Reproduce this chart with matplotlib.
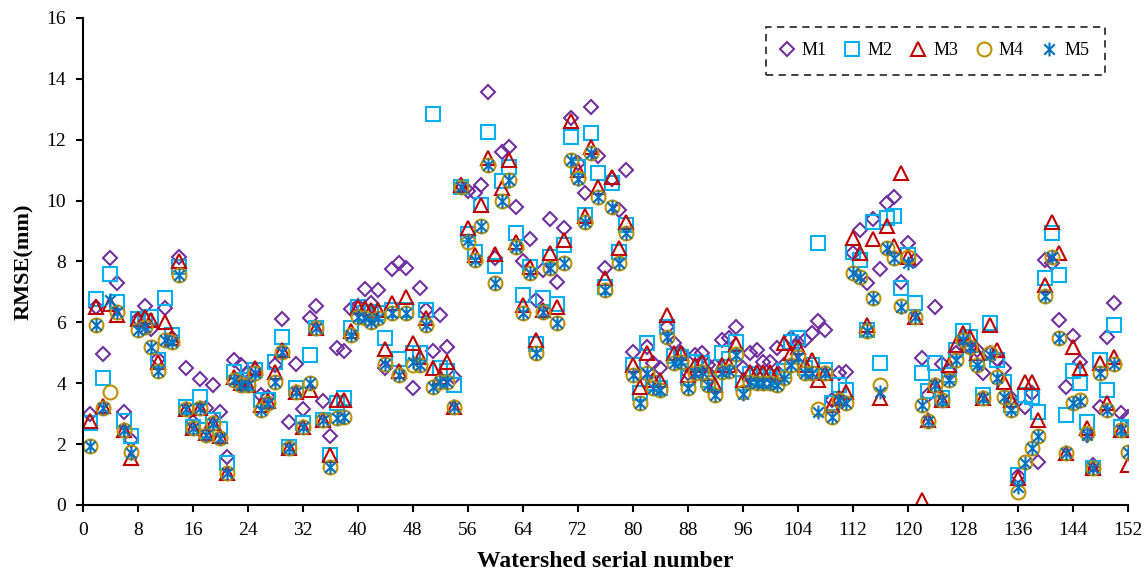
import numpy as np
import matplotlib
matplotlib.use("Agg")
from matplotlib import pyplot as plt
from matplotlib.path import Path

# RMSE (mm) of the five models for watersheds 1..152
m1 = [3.0, 6.5, 4.96, 8.1, 7.3, 3.07, 2.14, 6.1, 6.54, 5.77,
      4.8, 6.46, 5.5, 8.16, 4.49, 2.74, 4.13, 3.2, 3.94, 3.07,
      1.59, 4.76, 4.6, 4.35, 4.45, 3.61, 3.55, 4.6, 6.1, 2.74,
      4.63, 3.14, 6.13, 6.54, 3.43, 2.25, 5.15, 5.05, 6.45, 6.55,
      7.09, 6.65, 7.07, 4.5, 7.74, 7.94, 7.78, 3.83, 7.12, 6.41,
      5.07, 6.24, 5.18, 4.22, 10.5, 10.3, 10.24, 10.5, 13.58, 8.1,
      11.6, 11.77, 9.8, 8.0, 8.73, 6.74, 7.72, 9.4, 7.34, 9.09,
      12.7, 11.25, 10.24, 13.09, 11.45, 7.78, 10.7, 9.7, 11.0, 5.04,
      4.3, 5.2, 4.65, 4.49, 5.86, 5.31, 5.0, 4.33, 4.93, 4.98,
      4.6, 4.55, 5.42, 5.5, 5.86, 4.5, 4.98, 5.09, 4.7, 4.71,
      5.15, 4.6, 5.5, 5.31, 5.42, 5.64, 6.05, 5.75, 3.45, 4.33,
      4.38, 8.27, 9.03, 7.3, 9.4, 7.74, 9.91, 10.13, 7.34, 8.62,
      8.05, 4.82, 3.6, 6.49, 4.63, 4.4, 5.0, 5.5, 5.2, 5.09,
      4.33, 5.0, 4.8, 4.49, 3.5, 0.95, 3.23, 3.67, 1.42, 8.05,
      7.94, 6.08, 3.89, 5.55, 4.7, 2.3, 1.3, 3.23, 5.53, 6.63,
      3.01, 2.9]
m2 = [2.7, 6.78, 4.16, 7.6, 6.68, 2.76, 2.25, 6.1, 6.05, 6.19,
      4.76, 6.79, 5.59, 7.83, 3.23, 2.57, 3.56, 2.46, 2.79, 2.5,
      1.37, 4.38, 4.1, 4.0, 4.45, 3.45, 3.45, 4.7, 5.51, 1.9,
      3.83, 2.68, 4.93, 5.8, 2.79, 1.64, 3.35, 3.5, 5.8, 6.52,
      6.3, 6.35, 6.3, 5.48, 6.4, 4.8, 6.4, 4.98, 4.98, 6.41,
      12.85, 4.49, 4.4, 3.94, 10.46, 8.9, 8.3, 9.85, 12.27, 7.85,
      10.63, 11.12, 8.93, 6.89, 7.83, 5.3, 6.79, 8.16, 6.6, 8.54,
      12.1, 11.1, 9.53, 12.21, 10.9, 7.17, 10.57, 8.3, 9.2, 4.6,
      3.67, 5.31, 4.0, 3.83, 5.86, 4.9, 4.85, 4.16, 4.7, 4.65,
      4.1, 4.0, 4.98, 4.8, 5.37, 4.0, 4.3, 4.2, 4.1, 4.1,
      4.22, 4.4, 5.35, 5.48, 4.5, 4.6, 8.6, 4.44, 3.35, 3.94,
      3.78, 8.3, 8.05, 5.75, 9.3, 4.65, 9.42, 9.48, 7.12, 8.2,
      6.63, 4.33, 3.75, 4.68, 3.5, 4.27, 5.1, 5.7, 5.53, 4.8,
      3.6, 5.97, 4.75, 4.05, 3.3, 0.99, 3.61, 3.56, 3.07, 7.45,
      8.93, 7.56, 2.96, 4.4, 4.0, 2.74, 1.2, 4.76, 3.78, 5.91,
      2.57, 2.52]
m3 = [2.75, 6.52, 3.25, 6.6, 6.25, 2.46, 1.53, 6.1, 6.19, 6.08,
      4.7, 6.02, 5.5, 8.0, 3.14, 2.52, 3.18, 2.35, 2.68, 2.25,
      1.04, 4.2, 4.0, 3.95, 4.5, 3.3, 3.4, 4.38, 5.1, 1.86,
      3.72, 2.57, 3.78, 5.8, 2.79, 1.64, 3.45, 3.45, 5.7, 6.52,
      6.46, 6.4, 6.4, 5.11, 6.63, 4.4, 6.84, 5.31, 4.87, 6.13,
      4.49, 4.22, 4.71, 3.23, 10.5, 9.09, 8.2, 9.86, 11.39, 8.25,
      10.4, 11.34, 8.65, 6.57, 7.83, 5.42, 6.41, 8.27, 6.52, 8.71,
      12.6, 11.0, 9.48, 11.77, 10.46, 7.45, 10.79, 8.45, 9.31, 4.6,
      3.89, 4.98, 4.1, 4.1, 6.24, 4.98, 4.98, 4.27, 4.6, 4.7,
      4.33, 3.94, 4.6, 4.6, 5.3, 4.1, 4.38, 4.38, 4.38, 4.38,
      4.3, 5.31, 5.0, 5.2, 4.6, 4.76, 4.1, 4.35, 3.29, 3.5,
      3.72, 8.76, 8.27, 5.9, 8.75, 3.5, 9.17, 8.5, 10.9, 8.16,
      6.19, 0.16, 2.8, 3.94, 3.45, 4.6, 5.26, 5.64, 5.53, 4.98,
      3.5, 5.91, 5.09, 4.05, 3.45, 0.88, 4.05, 4.05, 2.79, 7.23,
      9.31, 8.27, 1.7, 5.2, 4.5, 2.52, 1.2, 4.65, 3.34, 4.87,
      2.46, 1.31]
m4 = [1.95, 5.9, 3.2, 3.72, 6.35, 2.46, 1.75, 5.75, 5.86, 5.18,
      4.41, 5.42, 5.37, 7.56, 3.14, 2.52, 3.18, 2.3, 2.68, 2.2,
      1.04, 4.1, 3.95, 3.95, 4.35, 3.12, 3.34, 4.05, 5.04, 1.86,
      3.72, 2.57, 4.02, 5.8, 2.79, 1.26, 2.85, 2.9, 5.59, 6.19,
      6.13, 6.02, 6.13, 4.63, 6.3, 4.27, 6.3, 4.6, 4.6, 5.91,
      3.89, 4.05, 4.05, 3.23, 10.46, 8.65, 8.05, 9.15, 11.17, 7.3,
      10.0, 10.68, 8.49, 6.3, 7.61, 4.98, 6.35, 7.78, 5.97, 7.94,
      11.34, 10.75, 9.3, 11.55, 10.13, 7.06, 9.8, 7.95, 8.93, 4.27,
      3.34, 4.33, 3.85, 3.78, 5.53, 4.65, 4.71, 3.83, 4.33, 4.38,
      3.94, 3.61, 4.38, 4.4, 4.95, 3.7, 4.05, 4.0, 4.0, 4.0,
      3.94, 4.16, 4.6, 4.87, 4.33, 4.33, 3.15, 4.33, 2.9, 3.45,
      3.34, 7.61, 7.5, 5.7, 6.8, 3.94, 8.43, 8.1, 6.55, 8.16,
      6.19, 3.29, 2.75, 3.94, 3.45, 4.1, 4.76, 5.42, 5.2, 4.6,
      3.5, 4.98, 4.2, 3.56, 3.12, 0.44, 1.42, 1.86, 2.25, 6.85,
      8.16, 5.48, 1.7, 3.35, 3.45, 2.35, 1.2, 4.33, 3.12, 4.63,
      2.46, 1.75]
m5 = [1.95, 5.9, 3.2, 6.74, 6.35, 2.46, 1.72, 5.75, 5.86, 5.18,
      4.41, 5.42, 5.37, 7.56, 3.14, 2.52, 3.18, 2.3, 2.68, 2.2,
      1.04, 4.1, 3.95, 3.95, 4.35, 3.12, 3.34, 4.05, 5.04, 1.86,
      3.72, 2.57, 4.02, 5.8, 2.79, 1.26, 2.85, 2.9, 5.59, 6.19,
      6.13, 6.02, 6.13, 4.63, 6.3, 4.27, 6.3, 4.7, 4.6, 5.91,
      3.89, 4.05, 4.05, 3.23, 10.46, 8.7, 8.05, 9.15, 11.17, 7.3,
      10.0, 10.68, 8.49, 6.3, 7.61, 4.98, 6.35, 7.78, 5.97, 7.94,
      11.34, 10.7, 9.3, 11.55, 10.13, 7.06, 9.8, 7.95, 8.93, 4.27,
      3.34, 4.33, 3.85, 3.78, 5.53, 4.65, 4.71, 3.83, 4.33, 4.38,
      3.94, 3.61, 4.38, 4.4, 4.93, 3.65, 4.05, 4.0, 4.0, 4.0,
      3.94, 4.16, 4.6, 4.87, 4.33, 4.33, 3.05, 4.33, 2.9, 3.45,
      3.34, 7.61, 7.5, 5.7, 6.8, 3.72, 8.43, 8.1, 6.5, 7.94,
      6.19, 3.29, 2.75, 3.94, 3.45, 4.1, 4.76, 5.42, 5.2, 4.6,
      3.5, 4.93, 4.16, 3.56, 3.12, 0.6, 1.37, 1.86, 2.25, 6.85,
      8.16, 5.48, 1.7, 3.35, 3.4, 2.3, 1.2, 4.33, 3.12, 4.63,
      2.46, 1.75]

labels = ['M1', 'M2', 'M3', 'M4', 'M5']
colors = ['#7030A0', '#00B0F0', '#C00000', '#BF9000', '#0070C0']
x_ticks = list(range(0, 153, 8))
y_ticks = list(range(0, 17, 2))

watershed = np.arange(1, len(m1) + 1)

# excel-like asterisk: x plus a vertical bar
star = Path([(0, -1), (0, 1), (-0.75, -0.75), (0.75, 0.75), (-0.75, 0.75), (0.75, -0.75)],
            [Path.MOVETO, Path.LINETO] * 3)
markers = ['D', 's', '^', 'o', star]
sizes = [7.5, 10, 10, 10, 10]

plt.rcParams['font.family'] = ['Liberation Serif', 'DejaVu Serif']

fig = plt.figure(figsize=(11.45, 5.76), dpi=100)
ax = fig.add_axes([0.0722, 0.1233, 0.9128, 0.8455])

for vals, lab, col, mk, ms in zip([m1, m2, m3, m4, m5], labels, colors, markers, sizes):
    ax.plot(watershed, vals, linestyle='none', marker=mk, markersize=ms,
            markerfacecolor='none', markeredgecolor=col, markeredgewidth=1.5,
            color=col, label=lab)

ax.set_xlim(0, 152)
ax.set_ylim(0, 16)
ax.set_xticks(x_ticks)
ax.set_yticks(y_ticks)
ax.tick_params(labelsize=14, direction='out', length=5, width=1.5, colors='black')
ax.tick_params(axis='y', pad=7)
ax.tick_params(axis='x', pad=7)
for s in ['top', 'right']:
    ax.spines[s].set_visible(False)
for s in ['left', 'bottom']:
    ax.spines[s].set_linewidth(1.5)
ax.spines['left'].set_bounds(0, 16)

ax.set_xlabel('Watershed serial number', fontsize=17, fontweight='bold', labelpad=9)
ax.set_ylabel('RMSE(mm)', fontsize=16, fontweight='bold', labelpad=9)

leg = ax.legend(loc='upper right', bbox_to_anchor=(0.978, 0.9815), borderaxespad=0,
                ncol=5, fontsize=13, frameon=True, fancybox=False,
                handletextpad=0.55, columnspacing=1.1, borderpad=0.85,
                handlelength=0.6, markerscale=1.0)
frame = leg.get_frame()
frame.set_edgecolor('black')
frame.set_linestyle((0, (4, 3)))
frame.set_linewidth(1.3)

fig.savefig('out.png', dpi=100)
